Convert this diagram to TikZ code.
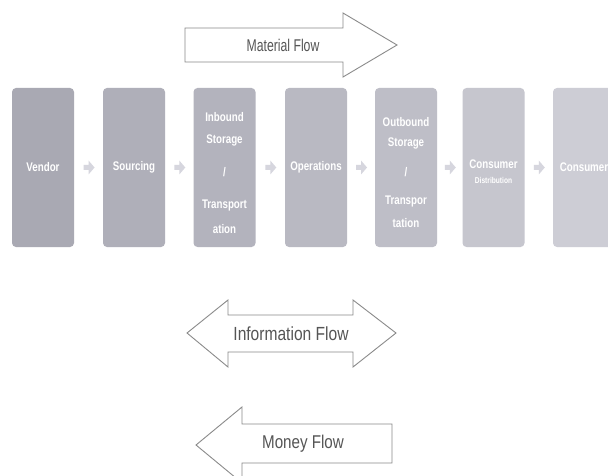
\documentclass[tikz,border=0pt]{standalone}
\usetikzlibrary{calc}
\usepackage{fontspec}
\newfontfamily\boxfont[FakeStretch=0.78]{Liberation Sans}
\newfontfamily\flowfont[FakeStretch=0.82]{Liberation Sans}
\newfontfamily\matfont[FakeStretch=0.72]{Liberation Sans}
\definecolor{c1}{HTML}{A9A9B3}
\definecolor{c2}{HTML}{AFAFB9}
\definecolor{c3}{HTML}{B3B3BD}
\definecolor{c4}{HTML}{B9B9C2}
\definecolor{c5}{HTML}{BEBEC7}
\definecolor{c6}{HTML}{C6C6CE}
\definecolor{c7}{HTML}{CDCDD5}
\definecolor{smallarr}{HTML}{D6D6DE}
\definecolor{outline}{HTML}{8A8A8A}
\definecolor{flowtext}{HTML}{555555}
\tikzset{
  stagebox/.style={rounded corners=4pt, minimum width=62pt, minimum height=159pt,
    inner sep=0pt, text=white, font=\boxfont\bfseries\fontsize{12.5}{14}\selectfont, align=center},
  boxline/.style={text=white, font=\boxfont\bfseries\fontsize{12.5}{14}\selectfont, inner sep=0pt},
  flowshape/.style={draw=outline, line width=0.9pt, fill=white, line join=miter},
  flowlabel/.style={text=flowtext, font=\flowfont\fontsize{19}{22}\selectfont, inner sep=0pt}
}
\begin{document}
\begin{tikzpicture}[x=1pt,y=-1pt]
\useasboundingbox (0,0) rectangle (608,476);
\clip (0,0) rectangle (608,476);
\fill[white] (0,0) rectangle (608,476);
% stage boxes
\node[stagebox, fill=c1] (vendor) at (43,167.5) {Vendor};
\node[stagebox, fill=c2] (sourcing) at (134,167.5) {Sourcing};
\node[stagebox, fill=c3] (inbound) at (224.5,167.5) {};
\node[stagebox, fill=c4] (operations) at (316,167.5) {Operations};
\node[stagebox, fill=c5] (outbound) at (406,167.5) {};
\node[stagebox, fill=c6] (distribution) at (493.5,167.5) {};
\node[stagebox, fill=c7] (consumer) at (584,167.5) {Consumer};
% multi-line labels
\node[boxline] (ib1) at (224.5,117) {Inbound};
\node[boxline] (ib2) at (224.5,140) {Storage};
\node[boxline] (ib3) at (224.5,172) {/};
\node[boxline] (ib4) at (224.5,205) {Transport};
\node[boxline] (ib5) at (224.5,229) {ation};
\node[boxline] (ob1) at (406,122) {Outbound};
\node[boxline] (ob2) at (406,143) {Storage};
\node[boxline] (ob3) at (406,172) {/};
\node[boxline] (ob4) at (406,201) {Transpor};
\node[boxline] (ob5) at (406,223) {tation};
\node[boxline] (cd1) at (493.5,164) {Consumer};
\node[boxline, font=\boxfont\bfseries\fontsize{8.5}{10}\selectfont] (cd2) at (493.5,180) {Distribution};
% small connector arrows between boxes
\foreach \a/\b in {vendor/sourcing, sourcing/inbound, inbound/operations, operations/outbound, outbound/distribution, distribution/consumer}{
  \coordinate (m) at ($(\a.east)!0.5!(\b.west)$);
  \fill[smallarr] ($(m)+(-5,-2.5)$) -- ($(m)+(0,-2.5)$) -- ($(m)+(0,-7)$) -- ($(m)+(6,0)$)
     -- ($(m)+(0,7)$) -- ($(m)+(0,2.5)$) -- ($(m)+(-5,2.5)$) -- cycle;
}
% Material flow
\draw[flowshape] (185,28) -- (343,28) -- (343,13) -- (397,45) -- (343,77) -- (343,62) -- (185,62) -- cycle;
\node[flowlabel, font=\matfont\fontsize{17}{20}\selectfont] (material) at (283,45) {Material Flow};
% Information flow
\draw[flowshape] (187,333) -- (228,300) -- (228,315) -- (353,315) -- (353,300) -- (396,333) -- (353,367) -- (353,352) -- (228,352) -- (228,367) -- cycle;
\node[flowlabel] (information) at (291,334) {Information Flow};
% Money flow
\draw[flowshape] (196,445) -- (242,407) -- (242,424) -- (392,424) -- (392,463) -- (242,463) -- (242,483) -- cycle;
\node[flowlabel, font=\flowfont\fontsize{18.5}{22}\selectfont] (money) at (303,444) {Money Flow};
\end{tikzpicture}
\end{document}
